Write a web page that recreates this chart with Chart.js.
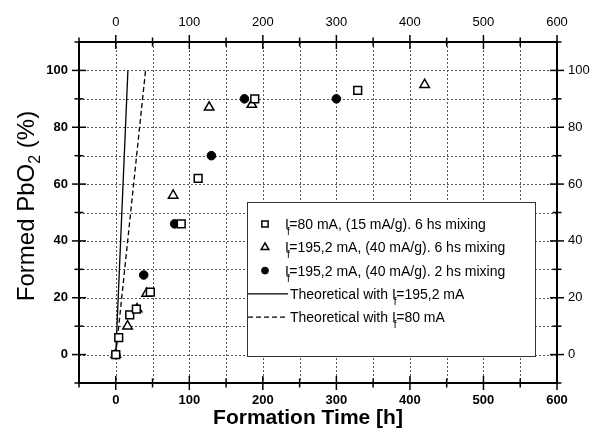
<!DOCTYPE html>
<html>
<head>
<meta charset="utf-8">
<script src="https://cdn.jsdelivr.net/npm/chart.js@4.4.0/dist/chart.umd.min.js"></script>
<style>
  html, body { margin: 0; padding: 0; background: #fff; }
</style>
</head>
<body>
<canvas id="pbChart" width="592" height="436"></canvas>
<script>
// formation time [h] / formed PbO2 [%]
const sq80Time = [0, 4, 19, 28, 47, 89, 112, 189, 329];
const sq80Pbo2 = [0, 6, 14, 16, 22, 46, 62, 90, 93];
const tri195Time = [0, 16, 29, 42, 78, 127, 185, 420];
const tri195Pbo2 = [0, 10, 16, 21.5, 56, 87, 88, 95];
const dot195Time = [0, 38, 80, 130, 175, 300];
const dot195Pbo2 = [0, 28, 46, 70, 90, 90];
const theo195Time = [0, 16.5];
const theo195Pbo2 = [0, 100];
const theo80Time = [0, 40.5];
const theo80Pbo2 = [0, 100];

const seriesLabels = [
    'I_{f}=80 mA, (15 mA/g). 6 hs mixing',
    'I_{f}=195,2 mA, (40 mA/g). 6 hs mixing',
    'I_{f}=195,2 mA, (40 mA/g). 2 hs mixing',
    'Theoretical with I_{f}=195,2 mA',
    'Theoretical with I_{f}=80 mA'
];
const xTitle = 'Formation Time [h]';
const yTitle = 'Formed PbO_{2} (%)';

// axis ranges; labels only on the major steps
const xMin = -50, xMax = 600, xMinor = 50, xMajor = 100;
const yMin = -10, yMax = 110, yMinor = 10, yMajor = 20;

const FONT = '"Liberation Sans", Arial, sans-serif';

const pts = (xs, ys) => xs.map((x, i) => ({ x: x, y: ys[i] }));

function drawRich(ctx, str, x, y, opt) {
    const parts = str.split(/_\{([^}]*)\}/);
    const main = (opt.weight || 'normal') + ' ' + opt.size + 'px ' + FONT;
    const sub = (opt.weight || 'normal') + ' ' + opt.subSize + 'px ' + FONT;
    const adv = [];
    let total = 0;
    parts.forEach((p, i) => {
        ctx.font = i % 2 ? sub : main;
        const w = ctx.measureText(p).width;
        const a = i % 2 ? w * opt.subAdvance : w;
        adv.push(a);
        total += a;
    });
    let cx = opt.align === 'center' ? x - total / 2 : x;
    ctx.textAlign = 'left';
    parts.forEach((p, i) => {
        ctx.font = i % 2 ? sub : main;
        if (i % 2) ctx.fillText(p, cx + (opt.subShift || 0), y + opt.subDrop);
        else ctx.fillText(p, cx, y);
        cx += adv[i];
    });
}

// dotted grid at every minor step, under the marks
function drawGrid(chart) {
    const { ctx, chartArea: a, scales } = chart;
    ctx.save();
    ctx.strokeStyle = '#555';
    ctx.lineWidth = 1;
    ctx.setLineDash([2, 2]);
    scales.x.ticks.forEach(t => {
        const px = Math.round(scales.x.getPixelForValue(t.value)) + 0.5;
        ctx.beginPath(); ctx.moveTo(px, a.top); ctx.lineTo(px, a.bottom); ctx.stroke();
    });
    scales.y.ticks.forEach(t => {
        const py = Math.round(scales.y.getPixelForValue(t.value)) + 0.5;
        ctx.beginPath(); ctx.moveTo(a.left, py); ctx.lineTo(a.right, py); ctx.stroke();
    });
    ctx.restore();
}

const framePlugin = {
    id: 'frame',
    beforeDatasetsDraw(chart) {
        drawGrid(chart);
    },
    afterDraw(chart) {
        const { ctx, chartArea: a, scales } = chart;
        ctx.save();

        // legend box
        const lg = chart.options.plugins.frame.legend;
        ctx.fillStyle = '#fff';
        ctx.fillRect(lg.left, lg.top, lg.right - lg.left, lg.bottom - lg.top);
        ctx.strokeStyle = '#333';
        ctx.lineWidth = 1;
        ctx.strokeRect(lg.left + 0.5, lg.top + 0.5, lg.right - lg.left, lg.bottom - lg.top);
        chart.data.datasets.forEach((ds, i) => {
            const ry = lg.top + lg.firstRow + i * lg.rowGap;
            ctx.strokeStyle = '#000';
            ctx.fillStyle = ds.backgroundColor;
            let tx = lg.textX;
            if (ds.showLine) {
                ctx.lineWidth = ds.borderWidth;
                ctx.setLineDash(ds.borderDash || []);
                ctx.beginPath();
                ctx.moveTo(lg.left + 1, ry);
                ctx.lineTo(lg.lineEnd, ry);
                ctx.stroke();
                ctx.setLineDash([]);
                tx = lg.lineEnd + 2;
            } else {
                ctx.lineWidth = ds.pointBorderWidth;
                Chart.helpers.drawPoint(ctx, {
                    pointStyle: ds.pointStyle, rotation: 0,
                    radius: ds.pointRadius * 0.8, borderWidth: ds.pointBorderWidth
                }, lg.markX, ry);
            }
            ctx.fillStyle = '#000';
            ctx.textBaseline = 'alphabetic';
            drawRich(ctx, ds.label, tx, ry + 5, {
                size: 14, subSize: 10, subDrop: 6, subAdvance: 0.15, subShift: -2
            });
        });

        // axis frame with ticks crossing the lines
        ctx.strokeStyle = '#000';
        ctx.lineWidth = 2;
        ctx.strokeRect(a.left, a.top, a.right - a.left, a.bottom - a.top);
        ctx.lineWidth = 1.5;
        const seg = (x1, y1, x2, y2) => {
            ctx.beginPath(); ctx.moveTo(x1, y1); ctx.lineTo(x2, y2); ctx.stroke();
        };
        scales.x.ticks.forEach(t => {
            const px = scales.x.getPixelForValue(t.value);
            const len = t.value % xMajor === 0 ? 7 : 4.5;
            seg(px, a.bottom - len, px, a.bottom + len);
            seg(px, a.top - len, px, a.top + len);
        });
        scales.y.ticks.forEach(t => {
            const py = scales.y.getPixelForValue(t.value);
            const len = t.value % yMajor === 0 ? 7 : 4.5;
            seg(a.left - len, py, a.left + len, py);
            seg(a.right - len, py, a.right + len, py);
        });

        // axis titles
        ctx.fillStyle = '#000';
        ctx.textBaseline = 'alphabetic';
        ctx.font = 'bold 21px ' + FONT;
        ctx.textAlign = 'center';
        ctx.fillText(xTitle, 308, 424);

        ctx.translate(34, 206);
        ctx.rotate(-Math.PI / 2);
        drawRich(ctx, yTitle, 0, 0, {
            size: 24, subSize: 16, subDrop: 6, subAdvance: 1, align: 'center'
        });
        ctx.restore();
    }
};

const majorLabel = step => v => (v % step === 0 && v >= 0 ? v : '');

const tickFont = weight => ({ family: FONT, size: 13, weight: weight });

new Chart(document.getElementById('pbChart').getContext('2d'), {
    type: 'scatter',
    data: {
        datasets: [
            {
                label: seriesLabels[0],
                data: pts(sq80Time, sq80Pbo2),
                pointStyle: 'rect', pointRadius: 5.5, pointBorderWidth: 1.5,
                borderColor: '#000', backgroundColor: '#fff'
            },
            {
                label: seriesLabels[1],
                data: pts(tri195Time, tri195Pbo2),
                pointStyle: 'triangle', pointRadius: 5.5, pointBorderWidth: 1.5,
                borderColor: '#000', backgroundColor: '#fff'
            },
            {
                label: seriesLabels[2],
                data: pts(dot195Time, dot195Pbo2),
                pointStyle: 'circle', pointRadius: 4.3, pointBorderWidth: 1,
                borderColor: '#000', backgroundColor: '#000'
            },
            {
                label: seriesLabels[3],
                data: pts(theo195Time, theo195Pbo2),
                showLine: true, pointRadius: 0, borderWidth: 1.3,
                borderColor: '#000', backgroundColor: '#000'
            },
            {
                label: seriesLabels[4],
                data: pts(theo80Time, theo80Pbo2),
                showLine: true, pointRadius: 0, borderWidth: 1.3, borderDash: [5, 3],
                borderColor: '#000', backgroundColor: '#000'
            }
        ]
    },
    options: {
        responsive: false,
        animation: false,
        devicePixelRatio: 1,
        layout: { padding: 0 },
        plugins: {
            legend: { display: false },
            tooltip: { enabled: false },
            frame: {
                legend: {
                    left: 247, top: 202, right: 535, bottom: 356,
                    firstRow: 22, rowGap: 23.3, markX: 265, textX: 285, lineEnd: 288
                }
            }
        },
        scales: {
            x: {
                type: 'linear', position: 'bottom', min: xMin, max: xMax,
                ticks: {
                    stepSize: xMinor, autoSkip: false, maxRotation: 0, padding: 10,
                    color: '#000', font: tickFont('bold'), callback: majorLabel(xMajor)
                },
                grid: { display: false, drawTicks: false },
                border: { display: false },
                afterFit: s => { s.height = 53; }
            },
            x2: {
                type: 'linear', position: 'top', min: xMin, max: xMax,
                ticks: {
                    stepSize: xMinor, autoSkip: false, maxRotation: 0, padding: 12,
                    color: '#000', font: tickFont('normal'), callback: majorLabel(xMajor)
                },
                grid: { display: false, drawTicks: false },
                border: { display: false },
                afterFit: s => { s.height = 42; }
            },
            y: {
                type: 'linear', position: 'left', min: yMin, max: yMax,
                ticks: {
                    stepSize: yMinor, autoSkip: false, padding: 11,
                    color: '#000', font: tickFont('bold'),
                    callback: v => (v % yMajor === 0 && v >= 0 && v <= 100 ? v : '')
                },
                grid: { display: false, drawTicks: false },
                border: { display: false },
                afterFit: s => { s.width = 79; }
            },
            y2: {
                type: 'linear', position: 'right', min: yMin, max: yMax,
                ticks: {
                    stepSize: yMinor, autoSkip: false, padding: 11,
                    color: '#000', font: tickFont('normal'),
                    callback: v => (v % yMajor === 0 && v >= 0 && v <= 100 ? v : '')
                },
                grid: { display: false, drawTicks: false },
                border: { display: false },
                afterFit: s => { s.width = 35; }
            }
        }
    },
    plugins: [framePlugin]
});
</script>
</body>
</html>
